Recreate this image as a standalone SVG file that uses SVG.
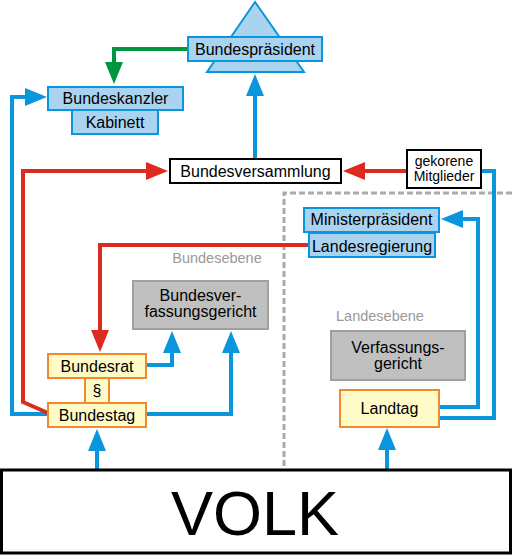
<svg xmlns="http://www.w3.org/2000/svg" width="512" height="555" viewBox="0 0 512 555">
<defs>
<style>
text{font-family:"Liberation Sans",Arial,sans-serif;fill:#000;text-anchor:middle}
.t16{font-size:16px}
.t14{font-size:14px}
.lvl{font-size:14.5px;fill:#999}
.blue{fill:#a9d3ef;stroke:#0a96dc;stroke-width:2}
.yel{fill:#fffbc9;stroke:#f08a2a;stroke-width:2}
.gray{fill:#c0c0c0;stroke:#a0a0a0;stroke-width:2}
.wht{fill:#fff;stroke:#000;stroke-width:2}
.cb{fill:none;stroke:#0a96dc;stroke-width:4}
.cr{fill:none;stroke:#dc2a1e;stroke-width:4}
.cg{fill:none;stroke:#009640;stroke-width:4}
</style>
<marker id="ab" markerUnits="userSpaceOnUse" markerWidth="23" markerHeight="18" refX="0" refY="9" orient="auto" overflow="visible"><path d="M0,0 L22,9 L0,18 z" fill="#0a96dc"/></marker>
<marker id="ar" markerUnits="userSpaceOnUse" markerWidth="23" markerHeight="18" refX="0" refY="9" orient="auto" overflow="visible"><path d="M0,0 L22,9 L0,18 z" fill="#dc2a1e"/></marker>
<marker id="ag" markerUnits="userSpaceOnUse" markerWidth="23" markerHeight="18" refX="0" refY="9" orient="auto" overflow="visible"><path d="M0,0 L22,9 L0,18 z" fill="#009640"/></marker>
</defs>
<rect width="512" height="555" fill="#fff"/>
<path d="M512,193 H284 V466" fill="none" stroke="#aaa" stroke-width="3" stroke-dasharray="6,3"/>
<text class="lvl" x="217" y="263">Bundesebene</text>
<text class="lvl" x="380" y="321">Landesebene</text>
<g id="connectors">
<path class="cg" d="M188,49 H114 V62" marker-end="url(#ag)"/>
<path class="cb" d="M48,414 H12 V97 H25" marker-end="url(#ab)"/>
<path class="cr" d="M48,413 L23,402 V171 H146" marker-end="url(#ar)"/>
<path class="cb" d="M255,159 V96" marker-end="url(#ab)"/>
<path class="cr" d="M407,171 H365" marker-end="url(#ar)"/>
<path class="cb" d="M481,171 H494 V418 H439"/>
<path class="cb" d="M439,407 H478 V219 H463" marker-end="url(#ab)"/>
<path class="cr" d="M309,245 H100 V330" marker-end="url(#ar)"/>
<path class="cb" d="M146,365 H172 V353" marker-end="url(#ab)"/>
<path class="cb" d="M146,414 H231 V353" marker-end="url(#ab)"/>
<path class="cb" d="M97,470 V451" marker-end="url(#ab)"/>
<path class="cb" d="M387,470 V450" marker-end="url(#ab)"/>
</g>
<g id="bundespraesident">
<polygon class="blue" points="255,2 207,72 304,72"/>
<rect class="blue" x="188" y="37" width="134" height="24"/>
<text class="t16" x="255" y="55">Bundespräsident</text>
</g>
<g id="bundeskanzler">
<rect class="blue" x="48" y="87" width="135" height="23"/>
<text class="t16" x="115.5" y="104">Bundeskanzler</text>
</g>
<g id="kabinett">
<rect class="blue" x="72" y="110" width="86" height="24"/>
<text class="t16" x="115" y="128">Kabinett</text>
</g>
<g id="bundesversammlung">
<rect class="wht" x="170" y="159" width="171" height="24"/>
<text class="t16" x="255.5" y="177">Bundesversammlung</text>
</g>
<g id="gekorene">
<rect class="wht" x="407" y="150" width="74" height="38" stroke-width="1.5"/>
<text class="t14" x="444" y="166">gekorene</text>
<text class="t14" x="444" y="181">Mitglieder</text>
</g>
<g id="ministerpraesident">
<rect class="blue" x="304" y="208" width="135" height="24"/>
<text class="t16" x="371.5" y="225">Ministerpräsident</text>
</g>
<g id="landesregierung">
<rect class="blue" x="309" y="233" width="126" height="24"/>
<text class="t16" x="372" y="252">Landesregierung</text>
</g>
<g id="bverfg">
<rect class="gray" x="133" y="281" width="135" height="48"/>
<text class="t16" x="200.5" y="301">Bundesver-</text>
<text class="t16" x="200.5" y="317">fassungsgericht</text>
</g>
<g id="verfassungsgericht">
<rect class="gray" x="331" y="331" width="134" height="49"/>
<text class="t16" x="398" y="352.5">Verfassungs-</text>
<text class="t16" x="398" y="368.5">gericht</text>
</g>
<g id="bundesrat">
<rect class="yel" x="48" y="354" width="98" height="24"/>
<text class="t16" x="97" y="372">Bundesrat</text>
</g>
<g id="paragraph">
<rect class="yel" x="85" y="378" width="24" height="25" fill="#fff"/>
<text class="t16" x="97" y="396">§</text>
</g>
<g id="bundestag">
<rect class="yel" x="48" y="403" width="98" height="24"/>
<text class="t16" x="97" y="421">Bundestag</text>
</g>
<g id="landtag">
<rect class="yel" x="340" y="390" width="99" height="37"/>
<text class="t16" x="389.5" y="414">Landtag</text>
</g>
<g id="volk">
<rect x="1.5" y="470" width="509" height="83" fill="#fff" stroke="#000" stroke-width="3"/>
<text x="255" y="535" style="font-size:63px">VOLK</text>
</g>
</svg>
